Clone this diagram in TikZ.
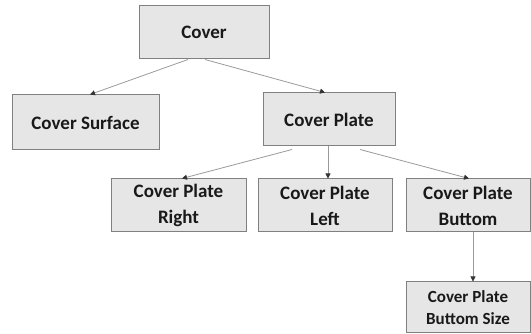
\documentclass[tikz,border=0pt]{standalone}
\usepackage{fontspec}
\setmainfont{Carlito}
\usetikzlibrary{arrows.meta}
\definecolor{boxfill}{HTML}{E6E6E6}
\definecolor{boxdraw}{HTML}{808080}
\definecolor{linecol}{HTML}{9A9A9A}
\definecolor{tipcol}{HTML}{333333}
\tikzset{
  box/.style={draw=boxdraw, line width=1pt, fill=boxfill, inner sep=0pt,
    align=center, font=\fontsize{19}{26}\selectfont\bfseries, text=black!90},
  smallbox/.style={box, font=\fontsize{17}{22}\selectfont\bfseries},
  conn/.style={draw=linecol, line width=0.8pt,
    -{Triangle[length=5pt,width=5pt,color=tipcol]}}
}
\begin{document}
\begin{tikzpicture}[x=1pt,y=-1pt]
\useasboundingbox (0,0) rectangle (531,334);
\node[box, minimum width=130pt, minimum height=53pt] (cover) at (204,32.5) {Cover};
\node[box, minimum width=147pt, minimum height=55pt] (surf) at (85.5,122.5) {Cover Surface};
\node[box, minimum width=132pt, minimum height=53pt] (plate) at (329,119.5) {Cover Plate};
\node[box, minimum width=135pt, minimum height=53pt] (right) at (178.5,205.5) {Cover Plate\\Right};
\node[box, minimum width=134pt, minimum height=53pt] (left) at (325,205.5) {Cover Plate\\Left};
\node[box, minimum width=124pt, minimum height=53pt] (buttom) at (468,205.5) {Cover Plate\\Buttom};
\node[smallbox, minimum width=124pt, minimum height=51pt] (size) at (468,307.5) {Cover Plate\\Buttom Size};
\draw[conn] ([xshift=-16pt]cover.south) -- ([xshift=4.5pt]surf.north);
\draw[conn] ([xshift=1pt]cover.south) -- ([xshift=-4pt]plate.north);
\draw[conn] ([xshift=-37pt,yshift=-3pt]plate.south) -- ([xshift=3.5pt]right.north);
\draw[conn] ([xshift=-1pt]plate.south) -- ([xshift=3pt]left.north);
\draw[conn] ([xshift=31pt,yshift=-3pt]plate.south) -- ([xshift=1pt]buttom.north);
\draw[conn] ([xshift=5pt]buttom.south) -- ([xshift=5pt]size.north);
\end{tikzpicture}
\end{document}
